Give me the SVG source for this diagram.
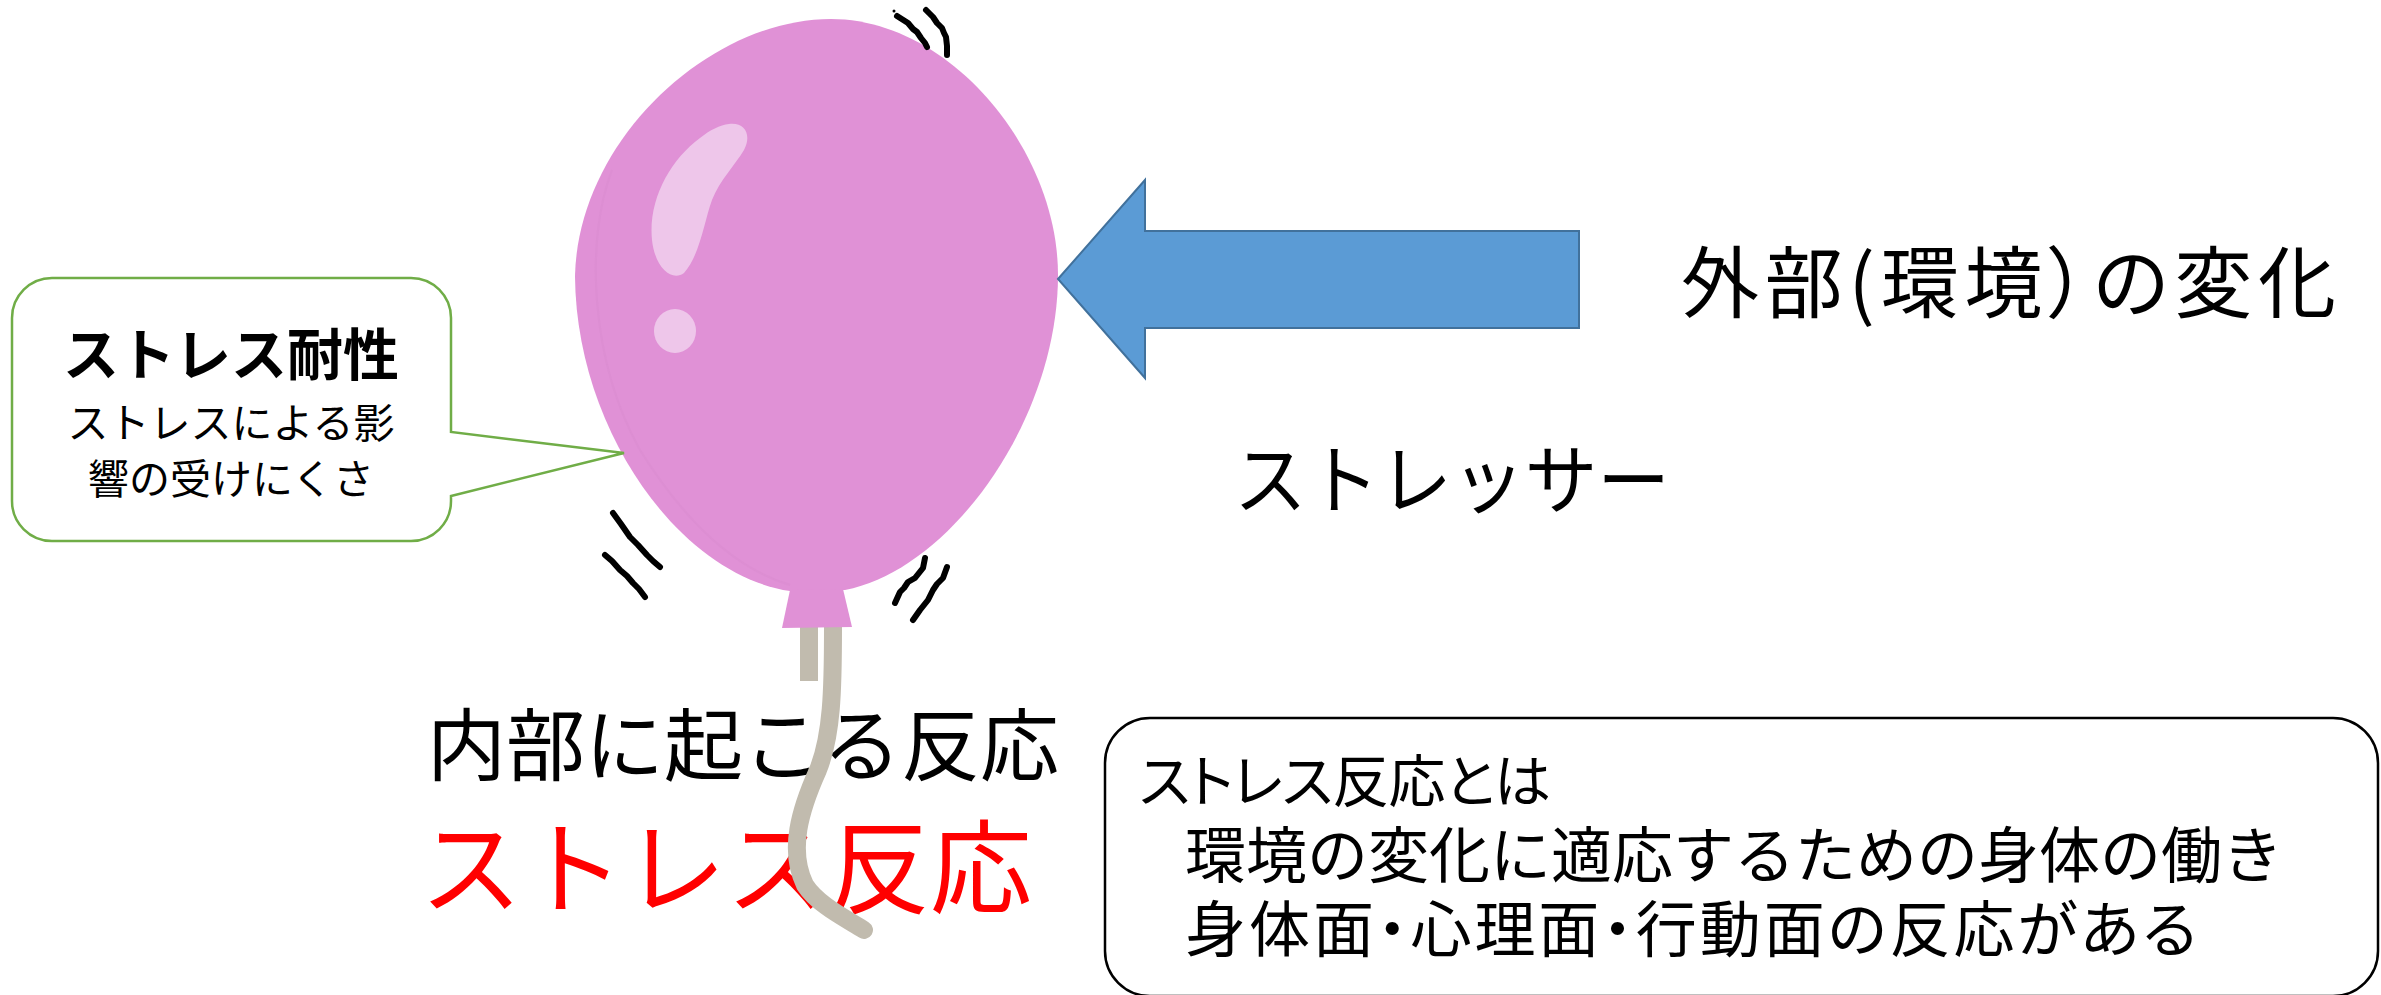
<svg xmlns="http://www.w3.org/2000/svg" width="2381" height="995" viewBox="0 0 2381 995">
  <style>
    .jp { font-family: "Noto Sans CJK JP", "Noto Sans", sans-serif; fill: #000; }
    .tight { font-family: "Liberation Sans", "Noto Sans CJK JP", sans-serif; }
    .prop { font-feature-settings: "palt" 1; }
    .bold { font-weight: 700; }
    .red { fill: #FF0000; }
    .skin { fill: #E091D6; }
    .shine { fill: #EEC6EA; }
    .shake { fill: none; stroke: #000; stroke-width: 6; stroke-linecap: round; stroke-linejoin: round; }
    .cord { fill: none; stroke: #C1BBAE; stroke-width: 18; }
  </style>

  <rect width="2381" height="995" fill="#FFFFFF"/>

  <!-- labels under the balloon -->
  <g id="label-internal">
    <text class="jp" x="427" y="775" font-size="79">内部に起こる反応</text>
  </g>
  <g id="label-stress-response">
    <text class="jp red" x="420" y="906" font-size="102">ストレス反応</text>
  </g>

  <!-- balloon with cord and motion marks -->
  <g id="balloon">
    <path class="cord" d="M809,627 V681"/>
    <path class="cord" stroke-linecap="round" d="M833,627 C833,690 832,735 818,770 C800,810 788,850 805,885 C818,905 845,918 864,930"/>
    <path class="skin" d="M831,19 C950,19 1058,150 1058,275 C1058,420 950,570 845,590 L790,591 C680,575 576,430 575,276 C578,140 710,19 831,19 Z"/>
    <path fill="none" stroke="#D98BCF" stroke-width="2" opacity="0.5" d="M612,170 C585,240 590,360 640,450 C690,530 740,570 790,585"/>
    <polygon class="skin" points="790,590 843,589 852,627 782,628"/>
    <path class="shine" d="M729,124 C745,122 752,135 744,150 C735,165 720,180 712,200 C704,222 700,255 684,273 C672,282 655,268 652,240 C648,200 670,160 700,138 C710,130 720,125 729,124 Z"/>
    <ellipse class="shine" cx="675" cy="331" rx="21" ry="22"/>
    <!-- motion marks -->
    <polyline class="shake" points="897,16 908,23 913,29 917,32 921,38 925,43 927,47"/>
    <polyline class="shake" points="926,10 933,17 937,23 942,28 944,33 946,37 947,46 947,55"/>
    <circle cx="894" cy="11" r="1.5" fill="#000"/>
    <polyline class="shake" points="613,513 621,524 630,537 638,545 647,555 653,561 660,567"/>
    <polyline class="shake" points="605,555 612,561 620,570 627,576 633,583 639,589 645,597"/>
    <polyline class="shake" points="925,558 923,568 915,578 908,582 904,588 900,592 895,603"/>
    <polyline class="shake" points="947,567 943,578 937,584 933,590 928,600 920,610 913,620"/>
  </g>

  <!-- stressor pushing on the balloon -->
  <g id="connectors">
    <polygon points="1058,279 1145,180 1145,231 1579,231 1579,328 1145,328 1145,378" fill="#5B9BD5" stroke="#41719C" stroke-width="2" stroke-linejoin="miter"/>
  </g>

  <g id="label-external">
    <text class="jp prop" x="1681" y="312" font-size="78" textLength="655" lengthAdjust="spacing">外部(環境）の変化</text>
  </g>
  <g id="label-stressor">
    <text class="jp" x="1234" y="508" font-size="76" textLength="436" lengthAdjust="spacingAndGlyphs">ストレッサー</text>
  </g>

  <!-- speech bubble: stress tolerance -->
  <g id="callout-tolerance">
    <path d="M52,278 H411 A40,40 0 0 1 451,318 V432 L624,453 L451,496 V501 A40,40 0 0 1 411,541 H52 A40,40 0 0 1 12,501 V318 A40,40 0 0 1 52,278 Z" fill="#FFFFFF" stroke="#70AD47" stroke-width="2.5"/>
    <text class="jp bold" x="231" y="375" font-size="56" text-anchor="middle">ストレス耐性</text>
    <text class="jp" x="231" y="438" font-size="41" text-anchor="middle">ストレスによる影</text>
    <text class="jp" x="231" y="494" font-size="41" text-anchor="middle">響の受けにくさ</text>
  </g>

  <!-- definition box -->
  <g id="definition-box">
    <rect x="1105" y="718" width="1273" height="278" rx="45" ry="45" fill="#FFFFFF" stroke="#000" stroke-width="2.5"/>
    <text class="jp tight prop" x="1139" y="802" font-size="57" textLength="412" lengthAdjust="spacing">ストレス反応とは</text>
    <text class="jp tight" x="1185" y="878" font-size="61">環境の変化に適応するための身体の働き</text>
    <text class="jp tight prop" x="1185" y="952" font-size="61" textLength="1012" lengthAdjust="spacing">身体面・心理面・行動面の反応がある</text>
  </g>
</svg>
